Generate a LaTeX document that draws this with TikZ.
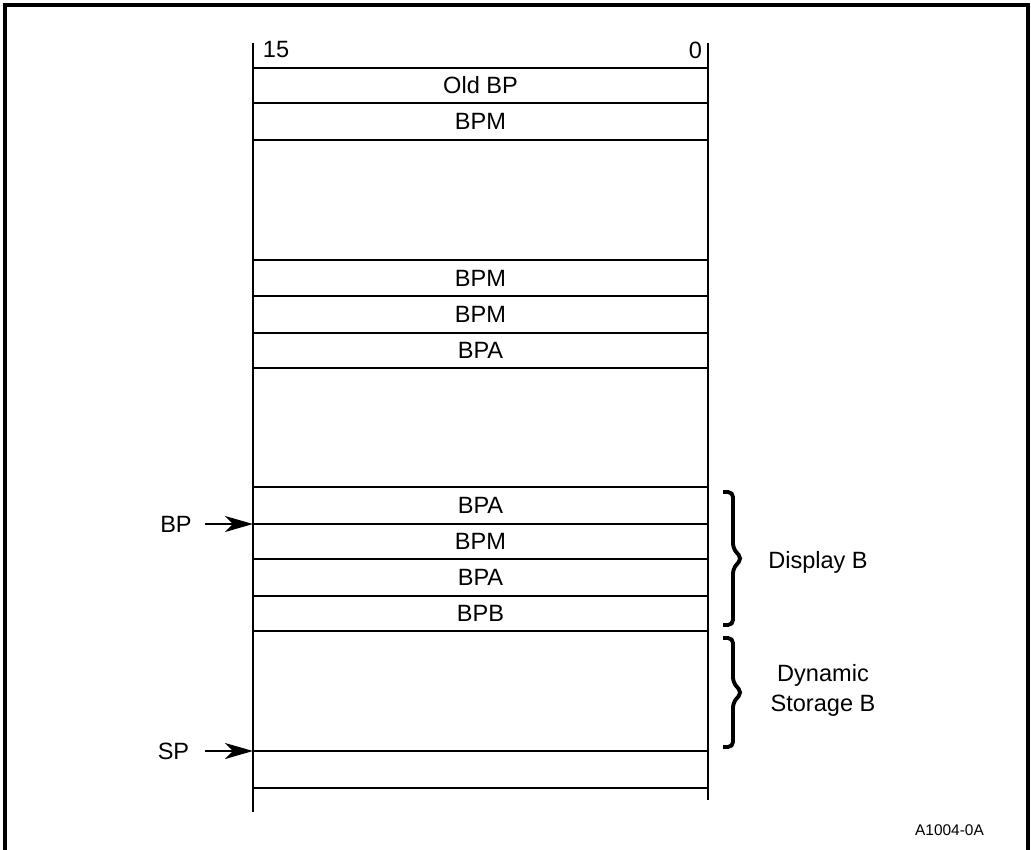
\documentclass[tikz,border=0pt]{standalone}
\usepackage{fontspec}
\setmainfont{Liberation Sans}
\usetikzlibrary{arrows.meta,positioning}
\tikzset{every picture/.style={line width=1.1pt}}
\tikzset{
  lbl/.style={font=\fontsize{13.4}{17}\selectfont},
  ptr/.style={-{Stealth[length=0.56cm,width=0.32cm,inset=0.16cm]}},
  brc/.style={line width=2.2pt, rounded corners=0.1cm},
}

\begin{document}
\begin{tikzpicture}
    \useasboundingbox (0,0) rectangle (20.62,-16.98);

    % 外框
    \draw[line width=2pt] (0.1,-17.5) -- (0.1,-0.1) -- (20.56,-0.1) -- (20.56,-17.5);

    % 栈的两侧及位号
    \draw (5.06,-0.86) -- (5.06,-16.24);
    \draw (14.16,-0.86) -- (14.16,-16.00);
    \node[lbl, anchor=west, inner sep=0pt] (msb) at (5.24,-1.0) {15};
    \node[lbl, anchor=east, inner sep=0pt] (lsb) at (14.06,-1.0) {0};

    % 各字的分隔线
    \foreach \y in {1.36,2.06,2.80,5.20,5.92,6.66,7.36,9.74,10.48,11.18,11.92,12.62,15.02,15.76}
        \draw (5.06,-\y) -- (14.16,-\y);

    % 各字的内容
    \foreach \y/\t [count=\i] in {1.71/Old BP, 2.43/BPM, 5.56/BPM, 6.29/BPM, 7.01/BPA,
                                  10.11/BPA, 10.83/BPM, 11.55/BPA, 12.27/BPB}
        \node[lbl] (cell\i) at (9.61,-\y) {\t};

    % 指针 BP 与 SP
    \coordinate (bp) at (5.06,-10.48);
    \coordinate (sp) at (5.06,-15.02);
    \node[lbl, left=1.09cm of bp] (bptxt) {BP};
    \node[lbl, left=1.14cm of sp] (sptxt) {SP};
    \draw[ptr, shorten <=0.13cm] (bptxt) -- (bp);
    \draw[ptr, shorten <=0.18cm] (sptxt) -- (sp);

    % 花括号及说明
    \foreach \t/\b in {9.84/12.50, 12.76/14.94}
        \draw[brc] (14.46,-\t) -- (14.66,-\t) -- (14.66,{-(\t+\b)/2+0.2})
            -- (14.84,{-(\t+\b)/2}) -- (14.66,{-(\t+\b)/2-0.2}) -- (14.66,-\b) -- (14.46,-\b);
    \node[lbl] (disp) at (16.36,-11.24) {Display B};
    \node[lbl, align=center] (dyn) at (16.46,-13.80) {Dynamic\\Storage B};

    % 图号
    \node[font=\fontsize{8.8}{10}\selectfont] (figid) at (18.99,-16.6) {A1004-0A};
\end{tikzpicture}
\end{document}
